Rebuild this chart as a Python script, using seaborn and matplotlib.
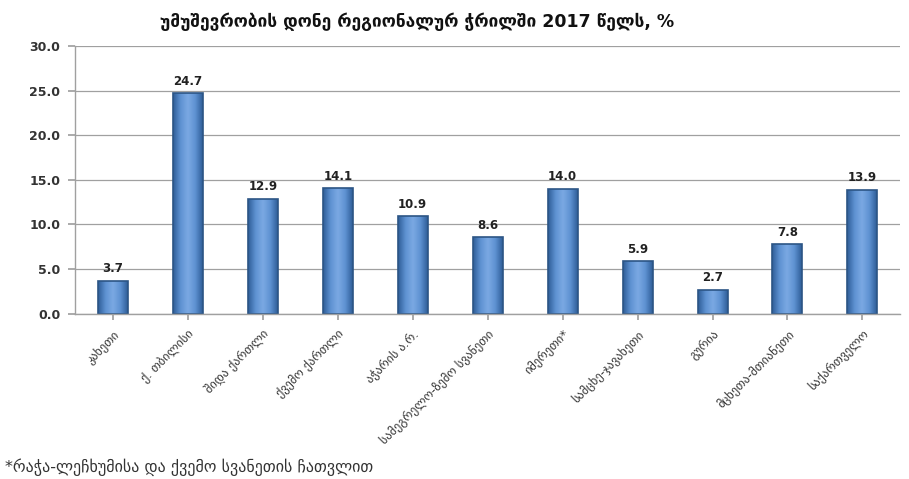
import matplotlib
matplotlib.use("Agg")
import matplotlib.pyplot as plt
import seaborn as sns
import pandas as pd
import numpy as np
from matplotlib.colors import LinearSegmentedColormap

title = "უმუშევრობის დონე რეგიონალურ ჭრილში 2017 წელს, %"
regions = ["კახეთი", "ქ. თბილისი", "შიდა ქართლი", "ქვემო ქართლი", "აჭარის ა.რ.",
           "სამეგრელო-ზემო სვანეთი", "იმერეთი*", "სამცხე-ჯავახეთი", "გურია",
           "მცხეთა-მთიანეთი", "საქართველო"]
values = [3.7, 24.7, 12.9, 14.1, 10.9, 8.6, 14.0, 5.9, 2.7, 7.8, 13.9]
yticks = [0, 5, 10, 15, 20, 25, 30]
footnote = "*რაჭა-ლეჩხუმისა და ქვემო სვანეთის ჩათვლით"

sns.set_theme(style="white")
plt.rcParams['font.family'] = ['DejaVu Sans']

df = pd.DataFrame({"region": regions, "value": values})

fig = plt.figure(figsize=(9.09, 4.79), dpi=100)
ax = fig.add_axes([0.083, 0.345, 0.907, 0.559])

sns.barplot(data=df, x="region", y="value", color="#4A7EBB", width=0.4,
            edgecolor="#2C5585", linewidth=1.2, saturation=1, ax=ax)

ax.set_xlim(-0.5, len(regions) - 0.5)
ax.set_ylim(0, 30)

# horizontal gradient inside each bar (3D look)
cmap = LinearSegmentedColormap.from_list("bar3d", ["#2F5E98", "#5E92D2", "#7BA9E3", "#5E92D2", "#2F5E98"])
grad = np.linspace(0, 1, 64).reshape(1, -1)
for p in list(ax.patches):
    x0, y0 = p.get_x(), p.get_y()
    w, h = p.get_width(), p.get_height()
    im = ax.imshow(grad, extent=[x0, x0 + w, y0, y0 + h], cmap=cmap, aspect="auto",
                   zorder=p.get_zorder() + 0.01, interpolation="bicubic")
    im.set_clip_path(p)
    p.set_facecolor("none")
    p.set_zorder(p.get_zorder() + 0.02)
ax.set_xlim(-0.5, len(regions) - 0.5)
ax.set_ylim(0, 30)

ax.set_yticks(yticks)
ax.set_yticklabels([f"{v:.1f}" for v in yticks], fontsize=9, fontweight="bold", color="#333333")
ax.yaxis.grid(True, color="#A0A0A0", linewidth=0.9)
ax.set_axisbelow(True)
ax.set_xlabel("")
ax.set_ylabel("")
ax.set_xticks(range(len(regions)))
ax.set_xticklabels(regions, rotation=45, ha="right", rotation_mode="anchor",
                   fontsize=8.8, color="#333333")
for s in ["top", "right"]:
    ax.spines[s].set_visible(False)
for s in ["left", "bottom"]:
    ax.spines[s].set_color("#A0A0A0")
    ax.spines[s].set_linewidth(1.0)
ax.tick_params(axis="y", which="both", left=True, length=5, color="#A0A0A0", pad=6)
ax.tick_params(axis="x", which="both", bottom=True, length=4, color="#A0A0A0", pad=6)

for i, v in enumerate(values):
    ax.text(i, v + 0.6, f"{v:.1f}", ha="center", va="bottom", fontsize=8.5,
            fontweight="bold", color="#222222")

fig.text(0.459, 0.955, title, ha="center", va="center", fontsize=12.5, fontweight="bold",
         color="#111111")
fig.text(0.005, 0.025, footnote, ha="left", va="center", fontsize=11.5, color="#333333")

fig.savefig("out.png", dpi=100)
